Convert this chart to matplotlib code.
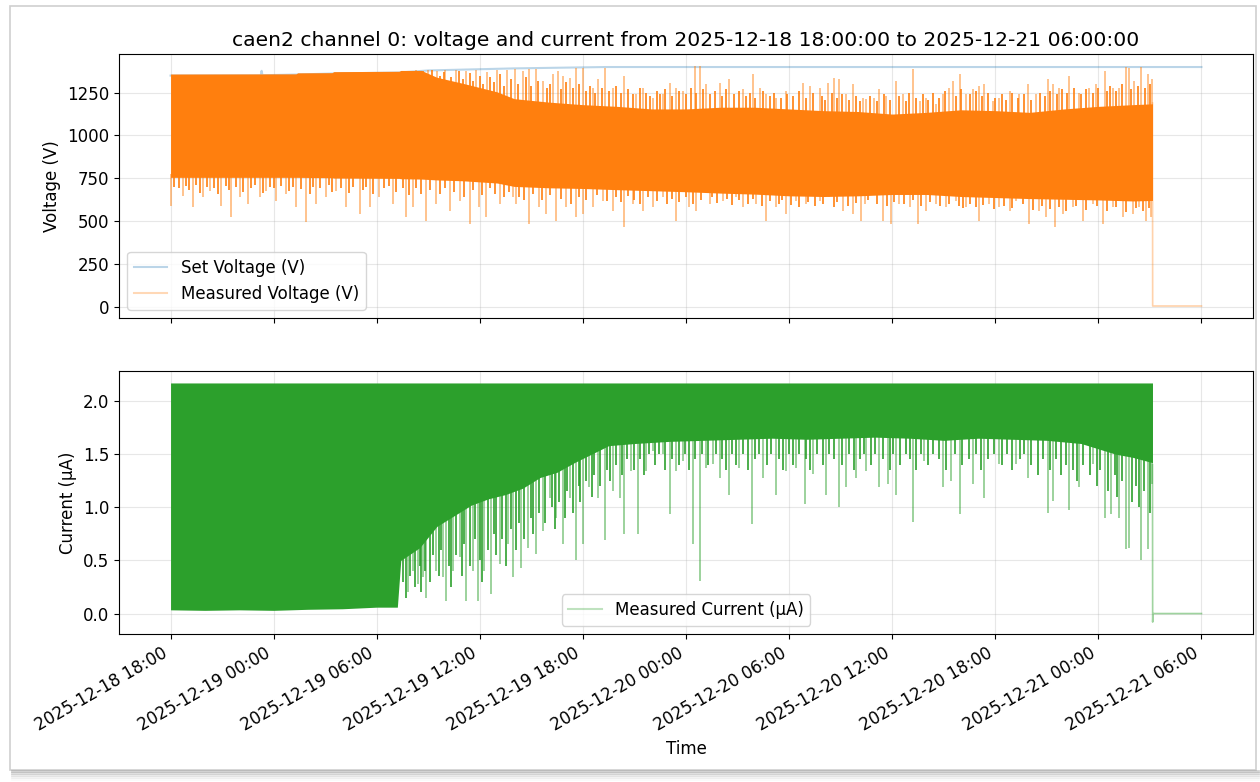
import numpy as np
import pandas as pd
import matplotlib
matplotlib.use("Agg")
import matplotlib.pyplot as plt
import matplotlib.dates as mdates
from matplotlib.lines import Line2D
from matplotlib.patches import Rectangle

# ---------------- data (hours after 2025-12-18 18:00) ----------------
START = pd.Timestamp("2025-12-18 18:00:00")
TITLE = "caen2 channel 0: voltage and current from 2025-12-18 18:00:00 to 2025-12-21 06:00:00"

# Set voltage (V)
set_h = [0.0, 5.25, 5.30, 5.35, 7.3, 9.4, 13.3, 15.0, 20.0, 25.3, 60.0]
set_v = [1350, 1351, 1378, 1352, 1356, 1362, 1368, 1380, 1392, 1400, 1400]

# Measured voltage: dense band (upper / lower edge of the solid region)
vcore_h = [0.0, 7.3, 7.4, 9.4, 9.5, 13.3, 13.4, 14.6, 15.5, 17.0, 19.0, 20.0, 22.0,
           24.0, 26.0, 28.0, 30.0, 32.0, 34.0, 36.0, 38.0, 40.0, 42.0, 44.0, 46.0,
           48.0, 50.0, 52.0, 54.0, 56.0, 57.15]
vcore_top = [1359, 1360, 1366, 1367, 1373, 1375, 1380, 1380, 1340, 1305, 1255, 1215, 1195,
             1180, 1170, 1155, 1155, 1165, 1165, 1155, 1145, 1140, 1125, 1135, 1150,
             1145, 1135, 1155, 1170, 1180, 1185]
vcore_bot = [755, 755, 755, 753, 751, 749, 747, 745, 740, 735, 722, 702, 694,
             690, 683, 677, 671, 663, 657, 647, 643, 647, 655, 655, 643,
             637, 631, 627, 623, 617, 620]

# Measured voltage: large upward spike tips
vup_h = [14.3, 15.0, 15.5, 16.0, 16.6, 17.2, 17.8, 18.4, 19.0, 19.6,
         20.02, 20.50, 20.89, 21.28, 21.67, 22.25, 22.54, 22.83, 23.22, 23.61, 23.99,
         24.58, 24.87, 25.26, 25.74, 26.42, 27.10, 27.49, 28.07, 28.65, 29.04, 29.43,
         29.81, 30.50, 30.79, 31.18, 31.95, 32.53, 33.31, 33.89, 34.28, 34.67, 35.25,
         35.83, 36.80, 37.19, 37.77, 38.25, 38.64, 38.93, 39.32, 39.71, 40.29,
         40.49, 40.97, 41.26, 41.65, 42.23, 42.62, 43.20, 43.59, 43.98, 44.56, 44.95,
         45.33, 45.53, 45.92, 46.30, 46.69, 47.08, 47.37, 47.86, 48.24, 48.83, 49.41,
         49.89, 50.38, 51.05, 51.35, 51.73, 52.32, 52.90, 53.48, 53.87, 54.36, 54.84,
         55.23, 55.62, 55.81, 56.10, 56.49, 56.88, 57.13]
vup_v = [1380, 1385, 1375, 1385, 1380, 1378, 1385, 1370, 1385, 1380,
         1387, 1377, 1387, 1387, 1318, 1358, 1377, 1348, 1338, 1396, 1396,
         1280, 1328, 1396, 1280, 1348, 1241, 1280, 1221, 1241, 1309, 1280,
         1260, 1406, 1406, 1299, 1309, 1328, 1270, 1358, 1280, 1241, 1221,
         1260, 1309, 1289, 1280, 1309, 1338, 1328, 1241, 1299, 1221,
         1212, 1221, 1270, 1231, 1318, 1241, 1387, 1202, 1221, 1183, 1241,
         1280, 1318, 1358, 1241, 1270, 1289, 1299, 1202, 1221, 1260, 1241,
         1299, 1241, 1328, 1299, 1280, 1348, 1250, 1280, 1299, 1377, 1280,
         1280, 1400, 1396, 1318, 1400, 1358, 1328]

# Measured voltage: smaller upward excursions (fringe above the dense band)
vup2_h = [14.7, 14.9, 15.2, 15.7, 15.9, 16.3, 16.8, 17.0, 17.4, 17.6, 18.0, 18.2, 18.6,
          18.8, 19.2, 19.4, 19.8, 20.2, 20.7, 21.0, 21.4, 21.9, 22.1, 22.7, 23.0, 23.4,
          23.8, 24.2, 24.4, 24.7, 25.1, 25.5, 25.9, 26.2, 26.6, 26.9, 27.3, 27.7, 27.9,
          28.3, 28.5, 28.8, 29.2, 29.6, 30.0, 30.3, 30.6, 31.0, 31.4, 31.7, 32.1, 32.3,
          32.8, 33.1, 33.5, 33.7, 34.0, 34.5, 34.9, 35.1, 35.5, 35.9, 36.2, 36.6, 37.0,
          37.4, 37.9, 38.1, 38.5, 38.8, 39.1, 39.5, 39.9, 40.1, 40.7, 41.1, 41.5, 41.9,
          42.4, 42.8, 43.0, 43.4, 43.8, 44.1, 44.4, 44.7, 45.1, 45.7, 46.0, 46.5, 46.9,
          47.2, 47.6, 48.0, 48.4, 48.6, 49.0, 49.3, 49.7, 50.1, 50.6, 50.9, 51.2, 51.6,
          51.9, 52.2, 52.6, 53.0, 53.3, 53.7, 54.0, 54.5, 54.7, 55.0, 55.4, 55.9, 56.3,
          56.7, 57.0]
vup2_v = [1375, 1360, 1380, 1350, 1370, 1340, 1375, 1330, 1365, 1320, 1350, 1300, 1340,
          1310, 1360, 1290, 1330, 1300, 1340, 1290, 1320, 1280, 1300, 1270, 1310, 1280,
          1300, 1260, 1290, 1250, 1280, 1260, 1290, 1250, 1270, 1240, 1280, 1250, 1230,
          1260, 1240, 1270, 1230, 1260, 1240, 1280, 1250, 1270, 1240, 1260, 1230, 1270,
          1240, 1260, 1230, 1250, 1220, 1260, 1230, 1250, 1220, 1240, 1230, 1260, 1220,
          1250, 1230, 1210, 1250, 1220, 1240, 1210, 1230, 1200, 1230, 1200, 1240, 1210,
          1230, 1200, 1250, 1220, 1240, 1210, 1250, 1220, 1260, 1230, 1270, 1240, 1260,
          1230, 1250, 1220, 1240, 1210, 1250, 1220, 1240, 1210, 1250, 1230, 1260, 1240,
          1270, 1250, 1280, 1240, 1270, 1250, 1280, 1260, 1290, 1260, 1300, 1270, 1290,
          1280, 1300]

# Measured voltage: large downward spike tips
vdn_h = [0.04, 0.72, 1.30, 1.88, 2.27, 2.95, 3.53, 4.02, 4.50, 5.18, 5.57, 6.15, 6.73,
         7.31, 7.90, 8.48, 9.06, 9.64, 10.22, 11.00, 11.58, 12.16, 12.94, 13.72, 14.10,
         14.88, 15.46, 16.24, 16.82, 17.40, 17.98, 18.37, 19.15, 19.92,
         20.12, 20.89, 21.47, 21.86, 22.45, 23.03, 23.61, 23.99, 24.58, 25.16, 25.74,
         26.42, 26.90, 27.49, 28.07, 28.65, 29.43, 30.20, 30.59, 31.37, 32.14, 32.92,
         33.31, 34.08, 34.67, 35.25, 35.83, 36.41, 36.99, 37.77, 38.35, 39.13, 39.71,
         40.20, 40.39, 40.87, 41.45, 41.94, 42.42, 43.01, 43.49, 43.98, 44.56, 45.14,
         45.72, 46.30, 47.08, 47.66, 48.24, 48.83, 49.22, 49.99, 50.57, 50.96, 51.45,
         51.93, 52.51, 53.09, 53.68, 54.26, 54.84, 55.42, 56.00, 56.39, 56.78, 57.07]
vdn_v = [589, 648, 579, 638, 677, 589, 521, 638, 599, 638, 677, 618, 657,
         579, 492, 599, 638, 677, 579, 541, 579, 638, 599, 521, 579,
         502, 599, 560, 618, 482, 579, 521, 599, 638,
         599, 482, 579, 541, 502, 579, 521, 541, 579, 618, 560,
         463, 599, 560, 579, 638, 502, 579, 560, 599, 618, 638,
         579, 599, 502, 579, 541, 618, 599, 618, 638, 560, 541,
         502, 599, 677, 502, 482, 599, 579, 482, 560, 599, 579,
         618, 579, 502, 599, 579, 560, 618, 482, 560, 521, 463,
         541, 579, 502, 599, 482, 579, 521, 541, 579, 502, 521]

# Measured voltage: smaller downward excursions (fringe below the dense band)
vdn2_h = [0.2, 0.5, 0.9, 1.1, 1.5, 1.7, 2.1, 2.5, 2.75, 3.2, 3.4, 3.8, 4.2, 4.7, 4.9, 5.4,
          5.8, 6.0, 6.4, 6.9, 7.1, 7.6, 8.1, 8.3, 8.7, 9.2, 9.4, 9.9, 10.4, 10.6, 11.2,
          11.4, 11.8, 12.4, 12.7, 13.1, 13.5, 13.9, 14.3, 14.6, 15.1, 15.7, 16.0, 16.5,
          17.1, 17.6, 18.1, 18.6, 18.9, 19.4, 19.7, 20.3, 20.6, 21.1, 21.6, 22.1, 22.7,
          23.3, 23.8, 24.2, 24.8, 25.4, 25.9, 26.2, 26.6, 27.0, 27.3, 27.8, 28.3, 28.9,
          29.2, 29.6, 30.0, 30.4, 30.9, 31.5, 31.8, 32.4, 32.7, 33.1, 33.6, 33.9, 34.4,
          34.9, 35.4, 35.6, 36.1, 36.6, 37.1, 37.5, 38.0, 38.6, 38.8, 39.4, 39.9, 40.6,
          41.1, 41.7, 42.1, 42.7, 43.2, 43.7, 44.2, 44.8, 45.3, 45.9, 46.1, 46.5, 46.9,
          47.3, 47.9, 48.5, 49.0, 49.6, 50.2, 50.7, 51.2, 51.7, 52.1, 52.7, 53.3, 53.9,
          54.5, 55.0, 55.6, 56.2, 56.6, 56.95]
vdn2_v = [700, 690, 705, 680, 710, 665, 700, 690, 660, 705, 680, 700, 670, 695, 710, 665,
          700, 690, 705, 675, 700, 685, 660, 700, 690, 710, 670, 695, 665, 700, 680,
          700, 660, 690, 705, 670, 695, 650, 690, 660, 680, 655, 690, 670,
          640, 680, 650, 690, 660, 640, 670, 640, 625, 655, 620, 650, 630,
          600, 640, 620, 650, 615, 640, 610, 645, 620, 600, 640, 615, 600,
          630, 610, 640, 600, 625, 640, 605, 630, 595, 620, 600, 630, 590,
          615, 600, 625, 595, 580, 610, 590, 600, 580, 610, 590, 605, 620,
          600, 585, 610, 600, 620, 590, 610, 585, 600, 590, 575, 600, 580,
          595, 570, 590, 575, 600, 565, 590, 570, 580, 560, 590, 565, 585,
          560, 580, 555, 575, 560, 575]

# Measured voltage after the trip
voff_h = [57.15, 57.16, 60.0]
voff_v = [1190, 3, 3]

# Measured current: dense band
I_TOP = 2.17
icore_h = [0.0, 2.0, 4.0, 6.0, 8.0, 10.0, 12.0, 13.2, 13.4, 14.5, 15.5, 16.5, 17.5,
           18.5, 19.5, 20.5, 21.5, 22.5, 23.5, 24.5, 25.5, 27.0, 29.0, 31.0, 33.0,
           35.0, 37.0, 39.0, 41.0, 43.0, 45.0, 47.0, 49.0, 51.0, 53.0, 54.0, 55.0,
           56.0, 57.15]
icore_bot = [0.035, 0.03, 0.035, 0.03, 0.04, 0.045, 0.06, 0.06, 0.50, 0.62, 0.82, 0.92, 1.02,
             1.08, 1.12, 1.18, 1.28, 1.33, 1.42, 1.50, 1.58, 1.60, 1.62, 1.63, 1.64,
             1.65, 1.64, 1.65, 1.66, 1.65, 1.63, 1.65, 1.64, 1.63, 1.60, 1.55, 1.50,
             1.47, 1.42]

# Measured current: large downward spike tips
idn_h = [13.81, 14.10, 14.39, 14.68, 14.88, 15.46, 15.85, 16.04, 16.43, 16.82, 17.21,
         17.59, 17.88, 18.27, 18.66, 19.15, 19.63, 19.92,
         20.41, 20.80, 21.28, 21.67, 22.06, 22.45, 22.83, 23.22, 23.61, 23.99, 24.38,
         24.87, 25.26, 25.74, 26.13, 26.42, 26.81, 27.20, 27.68, 28.07, 28.65, 29.04,
         29.43, 29.81, 30.40, 30.79, 31.18, 31.56, 31.95, 32.53, 33.11, 33.85, 34.47,
         35.25, 35.83, 36.41, 36.90, 37.38, 38.16, 38.93, 39.32, 39.90, 40.49,
         41.26, 41.74, 42.23, 43.20, 43.88, 44.95, 45.43, 45.92, 46.69, 47.37, 48.24,
         49.22, 49.89, 51.05, 51.35, 52.32, 52.90, 53.68, 54.36, 54.74, 55.23, 55.62,
         55.81, 56.49, 56.88, 57.13]
idn_v = [0.20, 0.40, 0.28, 0.34, 0.15, 0.40, 0.34, 0.12, 0.40, 0.53, 0.12,
         0.40, 0.12, 0.40, 0.18, 0.47, 0.65, 0.34,
         0.43, 0.62, 0.56, 0.78, 1.09, 0.90, 0.65, 1.09, 0.50, 0.65, 1.19,
         1.09, 0.69, 1.15, 1.09, 0.75, 1.34, 0.75, 1.34, 1.53, 1.50, 0.94,
         1.34, 1.44, 0.65, 0.31, 1.37, 1.41, 1.28, 1.12, 1.37, 0.84, 1.28,
         1.12, 1.34, 1.37, 1.03, 1.31, 1.12, 1.00, 1.19, 1.28, 1.34,
         1.19, 1.22, 1.12, 0.86, 1.44, 1.19, 1.25, 0.94, 1.22, 1.09, 1.41,
         1.41, 1.28, 0.95, 1.06, 0.97, 1.19, 1.41, 0.90, 0.94, 0.90, 0.61,
         0.62, 0.50, 0.61, 1.22]

# Measured current: smaller downward excursions (fringe below the dense band)
idn2_h = [13.5, 13.7, 13.95, 14.2, 14.5, 14.6, 14.8, 15.1, 15.3, 15.6, 15.75, 16.2, 16.3,
          16.6, 16.95, 17.1, 17.4, 17.7, 18.0, 18.1, 18.45, 18.8, 18.95, 19.3, 19.5, 19.8,
          20.1, 20.3, 20.6, 20.95, 21.1, 21.45, 21.8, 22.2, 22.35, 22.6, 22.95, 23.1, 23.4,
          23.75, 23.85, 24.2, 24.5, 24.65, 25.0, 25.4, 25.6, 25.9, 26.3, 26.55, 26.95,
          27.35, 27.55, 27.85, 28.2, 28.45, 28.8, 29.2, 29.6, 29.95, 30.2, 30.55, 30.95,
          31.3, 31.75, 32.1, 32.35, 32.7, 32.9, 33.3, 33.6, 34.0, 34.25, 34.7, 34.95, 35.4,
          35.65, 36.0, 36.25, 36.6, 37.0, 37.2, 37.6, 37.95, 38.35, 38.6, 39.1, 39.5,
          39.75, 40.1, 40.35, 40.75, 41.0, 41.45, 41.9, 42.05, 42.45, 42.8, 43.05, 43.4,
          43.65, 44.1, 44.35, 44.75, 45.15, 45.65, 46.05, 46.45, 46.9, 47.15, 47.55, 47.95,
          48.4, 48.7, 49.0, 49.45, 49.7, 50.1, 50.5, 50.8, 51.2, 51.55, 51.85, 52.1, 52.5,
          52.75, 53.1, 53.5, 53.9, 54.1, 54.55, 54.95, 55.1, 55.4, 55.95, 56.2, 56.35,
          56.65, 57.0]
idn2_v = [0.30, 0.15, 0.35, 0.25, 0.45, 0.20, 0.40, 0.30, 0.55, 0.35, 0.60, 0.45, 0.25,
          0.55, 0.35, 0.65, 0.45, 0.70, 0.50, 0.30, 0.60, 0.75, 0.55, 0.70, 0.45, 0.80,
          0.60, 0.85, 0.70, 0.90, 0.75, 0.95, 0.85, 1.00, 0.80, 1.05, 0.90, 1.15, 0.95,
          1.20, 1.05, 1.25, 1.10, 1.30, 1.20, 1.35, 1.25, 1.40, 1.30, 1.45, 1.35,
          1.45, 1.30, 1.50, 1.40, 1.50, 1.35, 1.45, 1.40, 1.50, 1.35, 1.45, 1.50,
          1.40, 1.50, 1.45, 1.35, 1.50, 1.40, 1.50, 1.35, 1.45, 1.50, 1.40, 1.50, 1.45,
          1.35, 1.50, 1.40, 1.50, 1.45, 1.35, 1.50, 1.40, 1.50, 1.45, 1.40, 1.50,
          1.35, 1.45, 1.50, 1.40, 1.50, 1.45, 1.35, 1.50, 1.40, 1.50, 1.45, 1.35,
          1.50, 1.40, 1.50, 1.45, 1.35, 1.50, 1.40, 1.45, 1.50, 1.35, 1.45, 1.50,
          1.40, 1.50, 1.35, 1.45, 1.50, 1.40, 1.30, 1.45, 1.35, 1.45, 1.30, 1.40, 1.35,
          1.25, 1.40, 1.30, 1.20, 1.35, 1.15, 1.30, 1.10, 1.25, 1.05, 1.20, 1.00,
          1.15, 0.95]

# Measured current after the trip
ioff_h = [57.15, 57.16, 57.18, 60.0]
ioff_v = [1.40, -0.08, 0.0, 0.0]

# ---------------- helpers ----------------
def to_time(hours):
    return START + pd.to_timedelta(np.asarray(hours, dtype=float), unit="h")

C_BLUE, C_ORANGE, C_GREEN = "#1f77b4", "#ff7f0e", "#2ca02c"

plt.rcParams["font.family"] = ["DejaVu Sans"]
plt.rcParams["font.size"] = 12

fig, (ax1, ax2) = plt.subplots(2, 1, sharex=True, figsize=(12.6, 7.82), dpi=100)
ax1.set_position([119 / 1260, 1 - 318 / 782, (1253 - 119) / 1260, (318 - 54) / 782])
ax2.set_position([119 / 1260, 1 - 634 / 782, (1253 - 119) / 1260, (634 - 371) / 782])

# ---- voltage ----
ax1.plot(to_time(set_h), set_v, color=C_BLUE, alpha=0.3, lw=1.5, zorder=2)
for hh, vv, lw, al in [(vup2_h, vup2_v, 1.4, 0.85), (vup_h, vup_v, 1.2, 0.55)]:
    ax1.vlines(to_time(hh), np.interp(hh, vcore_h, vcore_top) - 20, vv,
               color=C_ORANGE, alpha=al, lw=lw, zorder=3)
for hh, vv, lw, al in [(vdn2_h, vdn2_v, 1.4, 0.85), (vdn_h, vdn_v, 1.2, 0.55)]:
    ax1.vlines(to_time(hh), vv, np.interp(hh, vcore_h, vcore_bot) + 20,
               color=C_ORANGE, alpha=al, lw=lw, zorder=3)
ax1.fill_between(to_time(vcore_h), vcore_bot, vcore_top, color=C_ORANGE, lw=0, zorder=4)
ax1.plot(to_time(voff_h), voff_v, color=C_ORANGE, alpha=0.35, lw=1.2, zorder=3)

ax1.set_ylabel("Voltage (V)")
ax1.set_title(TITLE, fontsize=14.6)
ax1.grid(True, alpha=0.3)
h_set = Line2D([], [], color=C_BLUE, alpha=0.3, lw=1.5)
h_vm = Line2D([], [], color=C_ORANGE, alpha=0.3, lw=1.5)
ax1.legend([h_set, h_vm], ["Set Voltage (V)", "Measured Voltage (V)"], loc="lower left",
           fontsize=12)

# ---- current ----
for hh, vv, lw, al in [(idn2_h, idn2_v, 1.4, 0.85), (idn_h, idn_v, 1.2, 0.55)]:
    ax2.vlines(to_time(hh), vv, np.interp(hh, icore_h, icore_bot) + 0.03,
               color=C_GREEN, alpha=al, lw=lw, zorder=3)
ax2.fill_between(to_time(icore_h), icore_bot, I_TOP, color=C_GREEN, lw=0, zorder=4)
ax2.plot(to_time(ioff_h), ioff_v, color=C_GREEN, alpha=0.45, lw=1.2, zorder=3)
ax2.set_ylabel("Current (µA)")
ax2.set_xlabel("Time")
ax2.grid(True, alpha=0.3)
h_im = Line2D([], [], color=C_GREEN, alpha=0.3, lw=1.5)
ax2.legend([h_im], ["Measured Current (µA)"], loc="lower center", fontsize=12)

ax2.xaxis.set_major_locator(mdates.HourLocator(byhour=[0, 6, 12, 18]))
ax2.xaxis.set_major_formatter(mdates.DateFormatter("%Y-%m-%d %H:%M"))
for lab in ax2.get_xticklabels():
    lab.set_rotation(30)
    lab.set_ha("right")
ax1.tick_params(labelbottom=False)

# screenshot frame
fig.add_artist(Rectangle((10 / 1260, 12 / 782), 1246 / 1260, 764 / 782,
                         transform=fig.transFigure, fill=False, ec="#cfcfcf", lw=1.2))
for i, a in enumerate([0.35, 0.25, 0.16, 0.09, 0.04]):
    y = (11 - i * 2) / 782
    fig.add_artist(Line2D([12 / 1260, 1258 / 1260], [y, y], transform=fig.transFigure,
                          color="#808080", alpha=a, lw=2))

fig.savefig("out.png", dpi=100)
